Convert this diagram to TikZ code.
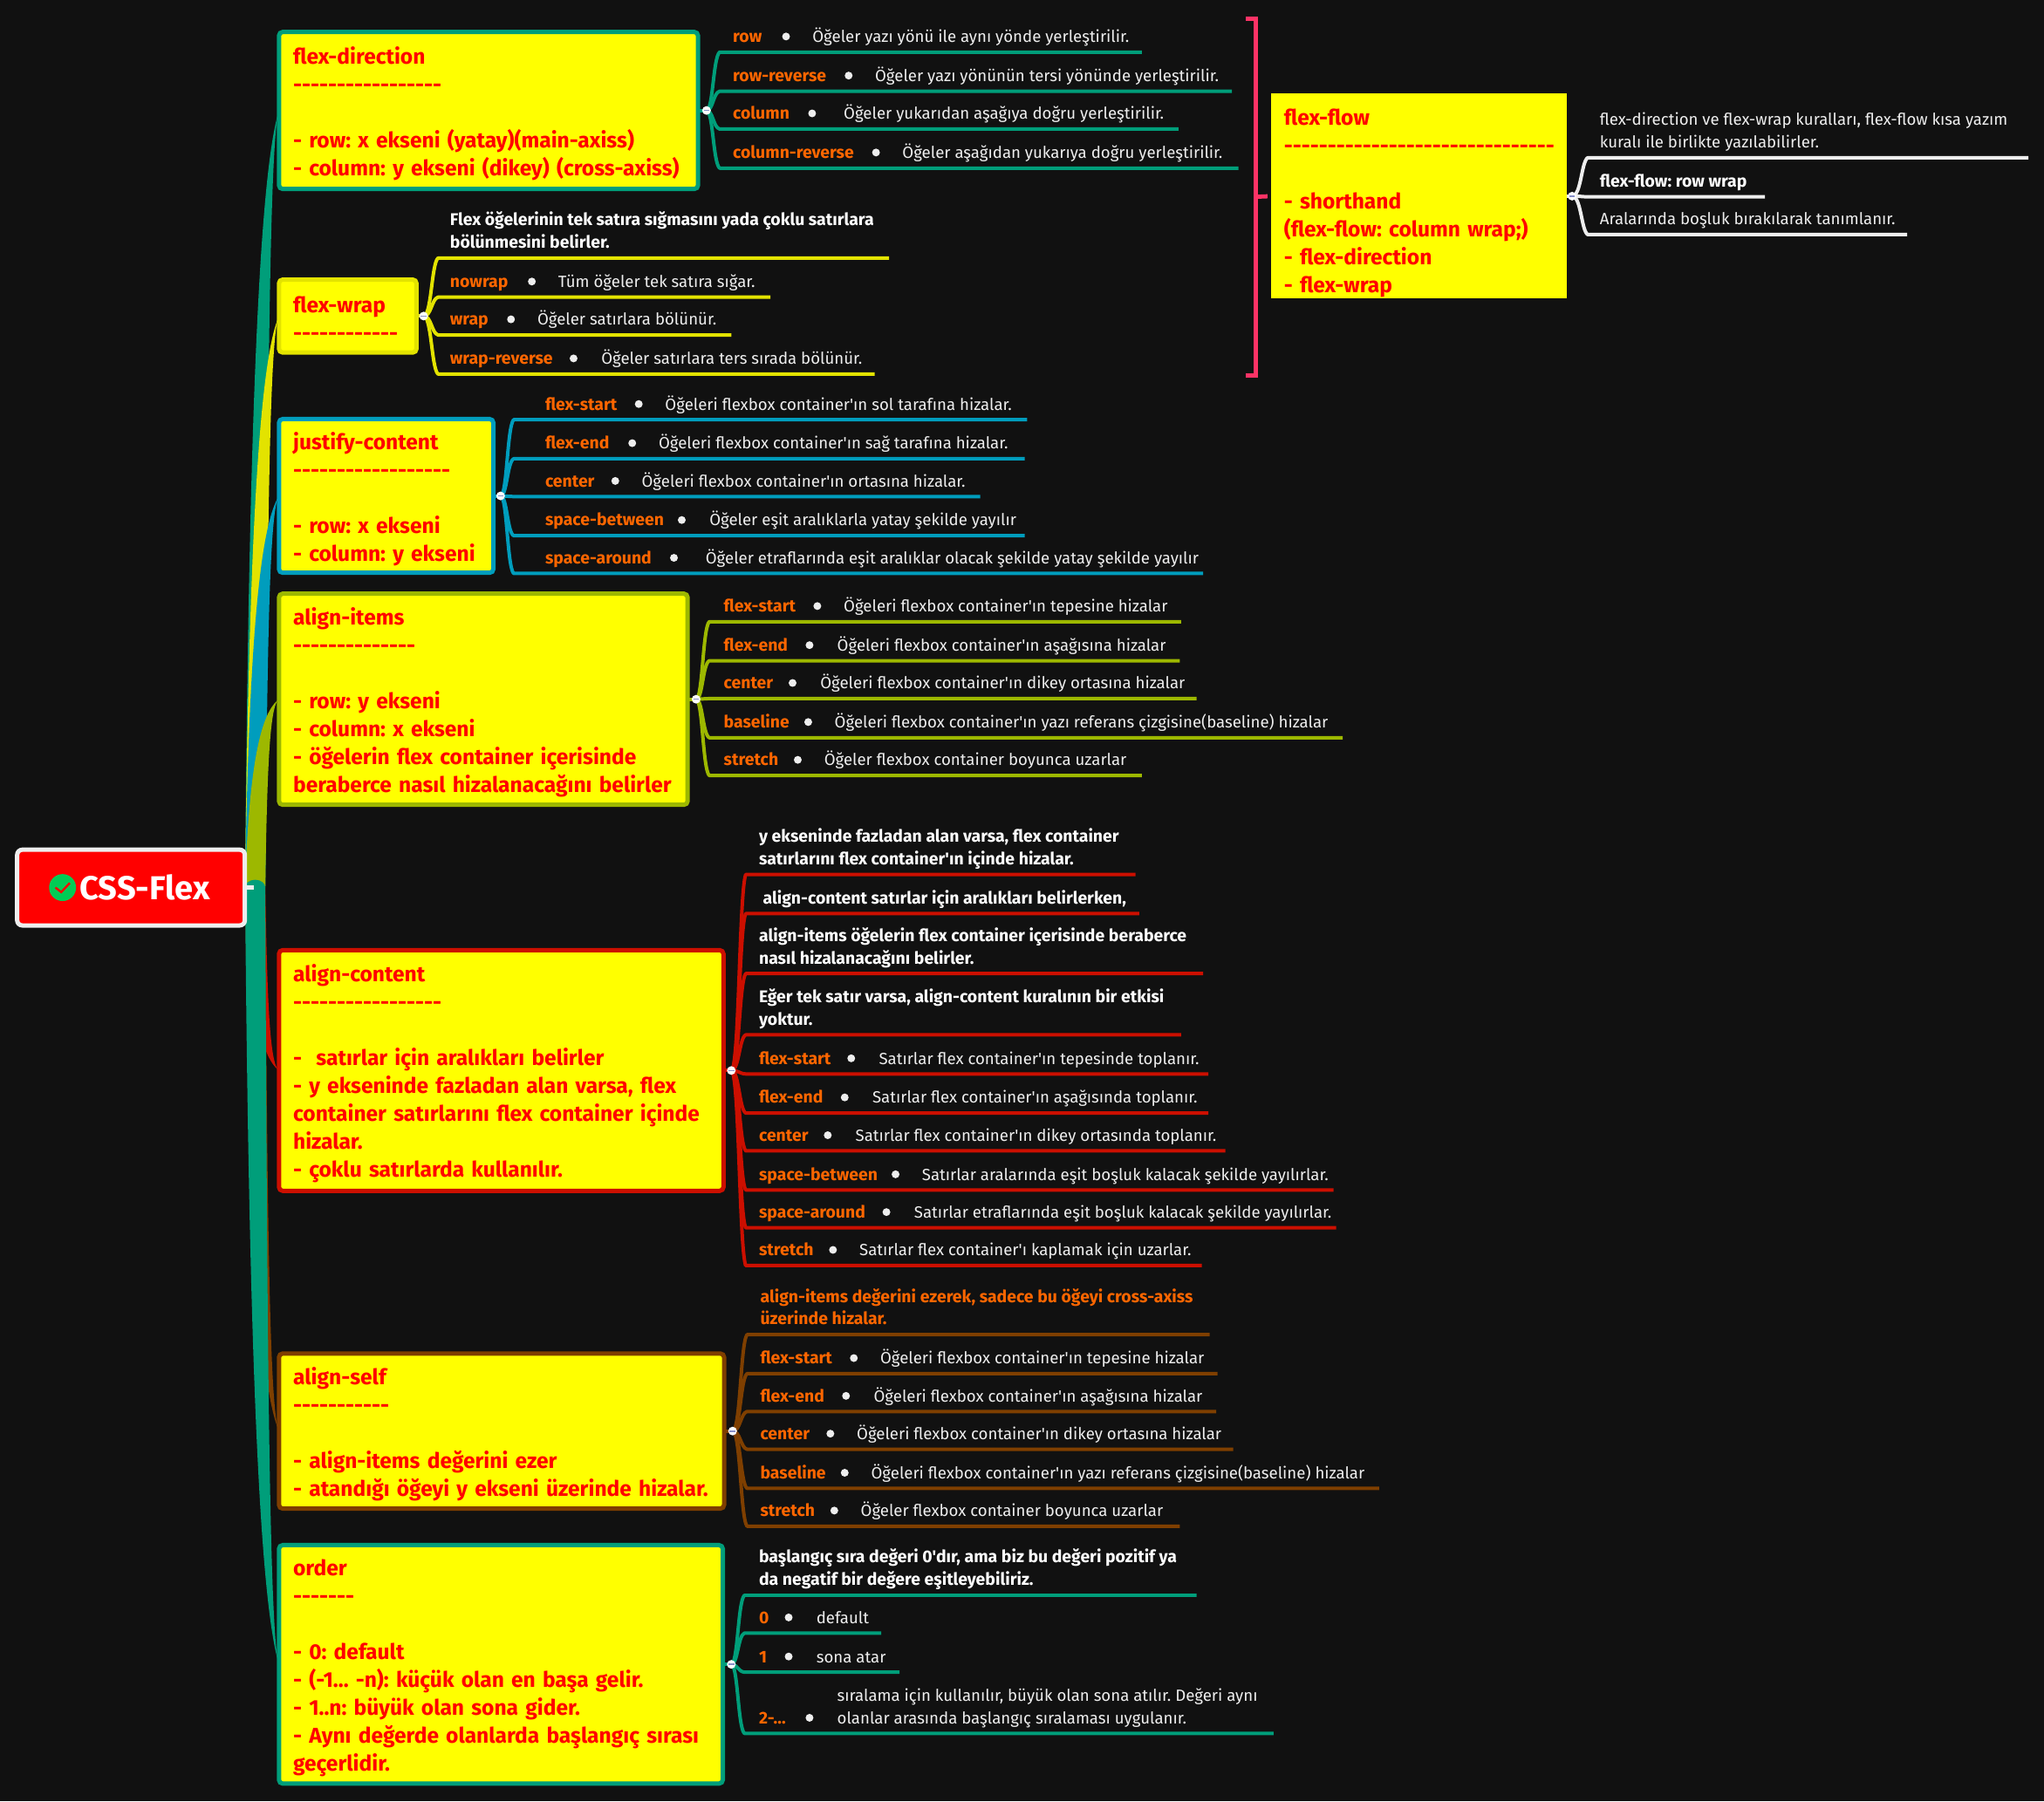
\documentclass[tikz,border=0pt]{standalone}
\usepackage{fontspec}
\usetikzlibrary{calc}
\newfontfamily\mm{Fira Sans}
\definecolor{bg}{HTML}{111111}
\definecolor{cTop}{HTML}{FFFF00}
\definecolor{cTx}{HTML}{FF0000}
\definecolor{cTeal}{HTML}{009E7A}
\definecolor{cYel}{HTML}{E3E300}
\definecolor{cBlue}{HTML}{009DBD}
\definecolor{cOli}{HTML}{9DB800}
\definecolor{cRed}{HTML}{CC0F00}
\definecolor{cBrn}{HTML}{7F3F00}
\definecolor{cPink}{HTML}{FF3366}
\definecolor{cWh}{HTML}{EEEEEE}
\definecolor{cOr}{HTML}{FF6600}
\definecolor{cChk}{HTML}{00CC55}
\definecolor{cBar}{HTML}{8890C8}
\tikzset{
 x=0.75pt,y=-0.75pt,
 branch/.style={line width=2pt,line join=round},
 lab/.style={anchor=south west,inner sep=0pt,align=left,text=cOr,font=\mm\bfseries\frenchspacing\fontsize{9.75}{13}\selectfont},
 desc/.style={anchor=south west,inner sep=0pt,align=left,text=cWh,font=\mm\frenchspacing\fontsize{9.35}{13}\selectfont},
 notebold/.style={anchor=south west,inner sep=0pt,align=left,text=white,font=\mm\bfseries\frenchspacing\fontsize{9.75}{13}\selectfont},
 bul/.style={circle,fill=cWh,inner sep=0pt,minimum size=4.5pt},
 cdot/.style={circle,fill=white,inner sep=0pt,minimum size=5pt},
 topic/.style={rectangle,rounded corners=2.2pt,fill=cTop,line width=2.5pt,outer sep=0pt,align=left,inner ysep=0pt,text=cTx,font=\mm\bfseries\frenchspacing\fontsize{12.33}{16.05}\selectfont},
}
\newcommand\Topic[7]{% name color x1 y1 x2 y2 text
 \pgfmathsetmacro\tw{(#5-#3)*0.75}\pgfmathsetmacro\th{(#6-#4)*0.75}\pgfmathsetmacro\ttw{\tw-2*8.2}
 \node[topic,draw=#2,minimum width=\tw pt,minimum height=\th pt,inner xsep=8.2pt,text width=\ttw pt] (#1) at ({(#3+#5)/2},{(#4+#6)/2}) {\vskip-2.2pt #7};}
\newcommand\Trunk[3]{% color target y
 \pgfmathsetmacro\tA{#3+(676-#3)*0.364}\pgfmathsetmacro\tB{#3+(676-#3)*0.076}\pgfmathsetmacro\tC{#3+(676-#3)*0.034}
 \fill[#1] (rl) .. controls (191,\tA) and (200,\tB) .. (#2.west) .. controls (207,\tC) and (205,\tA) .. (rr) -- cycle;}
\newcommand\Grp[5]{% topic color xstart xlabel dotx
 \def\Gc{#2}\def\Gs{#3}\def\Gl{#4}
 \coordinate (gp) at (#5,0 |- #1.east);
 \draw[branch,draw=#2] (#1.east) -- (gp);}
\newcommand\Conn[3]{% id yline xend
 \coordinate (#1-s) at (\Gs,#2); \coordinate (#1-e) at (#3,#2);
 \draw[branch,draw=\Gc] (gp) .. controls ($(#1-s |- gp)+(-5,0)$) and ($(#1-s)!0.1!(#1-s |- gp)+(-5,0)$) .. (#1-s) -- (#1-e);}
\newcommand\Leaf[7]{% id yline xend label xdot xdesc desc
 \Conn{#1}{#2}{#3}
 \node[lab] (#1-l) at (\Gl,#2-2) {\strut #4};
 \node[bul] (#1-d) at (#5,#2-12) {};
 \node[desc] (#1-t) at (#6,#2-2) {\strut #7};}
\newcommand\Note[6]{% id yline xend style x text
 \Conn{#1}{#2}{#3}
 \node[#4] (#1-t) at (#5,#2-2) {#6};}
\newcommand\Collapse[1]{\node[cdot] (#1) at (gp) {}; \draw[cBar,line width=.8pt] ($(#1)+(-2.2,0)$) -- ($(#1)+(2.2,0)$);}
\begin{document}
\begin{tikzpicture}
\useasboundingbox (0,0) rectangle (1568,1382);
\fill[bg] (0,0) rectangle (1568,1382);
\coordinate (rl) at (188,680);
\coordinate (rr) at (203.5,680);
% topics
\Topic{fd}{cTeal}{214}{24.5}{535.5}{145}{flex-direction\\-----------------\\[16.05pt]\mbox{- row: x ekseni (yatay)(main-axiss)}\\\mbox{- column: y ekseni (dikey) (cross-axiss)}}
\Topic{fw}{cYel}{214}{214.5}{319.5}{270.5}{\vskip-1.3pt flex-wrap\\------------}
\Topic{jc}{cBlue}{214}{321.5}{378.5}{439.5}{justify-content\\------------------\\[16.05pt]- row: x ekseni\\- column: y ekseni}
\Topic{ai}{cOli}{214}{455.5}{527.5}{617.5}{align-items\\--------------\\[16.05pt]- row: y ekseni\\- column: x ekseni\\- öğelerin flex container içerisinde\\\mbox{beraberce nasıl hizalanacağını belirler}}
\Topic{ac}{cRed}{214}{729}{555}{913.7}{align-content\\-----------------\\[16.05pt]-\ \ satırlar için aralıkları belirler\\\mbox{- y ekseninde fazladan alan varsa, flex}\\\mbox{container satırlarını flex container içinde}\\hizalar.\\- çoklu satırlarda kullanılır.}
\Topic{as}{cBrn}{214}{1038.5}{555.5}{1157.5}{align-self\\-----------\\[16.05pt]- align-items değerini ezer\\\mbox{- atandığı öğeyi y ekseni üzerinde hizalar.}}
\Topic{or}{cTeal}{214}{1185.5}{554.5}{1368.5}{order\\-------\\[16.05pt]- 0: default\\- (-1... -n): küçük olan en başa gelir.\\- 1..n: büyük olan sona gider.\\\mbox{- Aynı değerde olanlarda başlangıç sırası}\\geçerlidir.}
\node[topic,draw=none,rounded corners=0pt,minimum width=170.25pt,minimum height=118pt,inner xsep=7.5pt,text width=155.25pt] (ff) at (1088.5,150.5) {\vskip1.3pt flex-flow\\\mbox{-------------------------------}\\[16.05pt]- shorthand\\(flex-flow: column wrap;)\\- flex-direction\\- flex-wrap\par\vskip-1.3pt};
% trunk
\Trunk{cTeal}{fd}{85}
\Trunk{cYel}{fw}{241}
\Trunk{cBlue}{jc}{380}
\Trunk{cOli}{ai}{536}
\Trunk{cRed}{ac}{822}
\Trunk{cBrn}{as}{1098}
\Trunk{cTeal}{or}{1277}
\fill[cTeal] (195.75,681) ellipse (7.75 and 6);
% root
\node[rectangle,rounded corners=3pt,fill=cTx,draw=cWh,line width=2.5pt,outer sep=0pt,minimum width=131pt,minimum height=43.6pt,text=white,font=\mm\bfseries\fontsize{19.1}{22}\selectfont] (root) at (100.5,681) {\hspace*{15.75pt}CSS-Flex};
\draw[cWh,line width=2.5pt] (root.east) -- ($(root.east)+(7,0)$);
\node[circle,fill=cChk,inner sep=0pt,minimum size=15.5pt] (icon) at (48,681) {};
\draw[cTx,line width=1.2pt] ($(icon)+(-5.5,0)$) -- ($(icon)+(-1,3.5)$) -- ($(icon)+(5.5,-3.5)$);
% flex-direction
\Grp{fd}{cTeal}{552}{562}{542}
\Leaf{a1}{40}{876}{row}{603}{623}{Öğeler yazı yönü ile aynı yönde yerleştirilir.}
\Leaf{a2}{70}{945}{row-reverse}{651}{671}{Öğeler yazı yönünün tersi yönünde yerleştirilir.}
\Leaf{a3}{99}{904}{column}{623}{647}{Öğeler yukarıdan aşağıya doğru yerleştirilir.}
\Leaf{a4}{129}{950}{column-reverse}{672}{692}{Öğeler aşağıdan yukarıya doğru yerleştirilir.}
\Collapse{fd-c}
% flex-wrap
\Grp{fw}{cYel}{336}{345}{325}
\Note{b0}{198}{682}{notebold}{345}{\strut Flex öğelerinin tek satıra sığmasını yada çoklu satırlara\\\strut bölünmesini belirler.}
\Leaf{b1}{228}{591}{nowrap}{408}{428}{Tüm öğeler tek satıra sığar.}
\Leaf{b2}{257}{561}{wrap}{392}{412}{Öğeler satırlara bölünür.}
\Leaf{b3}{287}{671}{wrap-reverse}{440}{461}{Öğeler satırlara ters sırada bölünür.}
\Collapse{fw-c}
% justify-content
\Grp{jc}{cBlue}{394}{418}{384}
\Leaf{c1}{322}{788}{flex-start}{490}{510}{Öğeleri flexbox container'ın sol tarafına hizalar.}
\Leaf{c2}{352}{786}{flex-end}{485}{505}{Öğeleri flexbox container'ın sağ tarafına hizalar.}
\Leaf{c3}{381}{752}{center}{472}{492}{Öğeleri flexbox container'ın ortasına hizalar.}
\Leaf{c4}{411}{786}{space-between}{523}{544}{Öğeler eşit aralıklarla yatay şekilde yayılır}
\Leaf{c5}{440}{923}{space-around}{517}{541}{Öğeler etraflarında eşit aralıklar olacak şekilde yatay şekilde yayılır}
\Collapse{jc-c}
% align-items
\Grp{ai}{cOli}{544}{555}{534}
\Leaf{d1}{477}{906}{flex-start}{627}{647}{Öğeleri flexbox container'ın tepesine hizalar}
\Leaf{d2}{507}{905}{flex-end}{621}{642}{Öğeleri flexbox container'ın aşağısına hizalar}
\Leaf{d3}{536}{918}{center}{608}{629}{Öğeleri flexbox container'ın dikey ortasına hizalar}
\Leaf{d4}{566}{1030}{baseline}{620}{640}{Öğeleri flexbox container'ın yazı referans çizgisine(baseline) hizalar}
\Leaf{d5}{595}{876}{stretch}{612}{632}{Öğeler flexbox container boyunca uzarlar}
\Collapse{ai-c}
% align-content
\Grp{ac}{cRed}{572}{582}{561}
\Note{e0}{671}{871}{notebold}{582}{\strut y ekseninde fazladan alan varsa, flex container\\\strut satırlarını flex container'ın içinde hizalar.}
\Note{e1}{701}{874}{notebold}{585}{\strut align-content satırlar için aralıkları belirlerken,}
\Note{e2}{747}{923}{notebold}{582}{\strut align-items öğelerin flex container içerisinde beraberce\\\strut nasıl hizalanacağını belirler.}
\Note{e3}{794}{906}{notebold}{582}{\strut Eğer tek satır varsa, align-content kuralının bir etkisi\\\strut yoktur.}
\Leaf{e4}{824}{927}{flex-start}{653}{674}{Satırlar flex container'ın tepesinde toplanır.}
\Leaf{e5}{854}{927}{flex-end}{648}{669}{Satırlar flex container'ın aşağısında toplanır.}
\Leaf{e6}{883}{940}{center}{635}{656}{Satırlar flex container'ın dikey ortasında toplanır.}
\Leaf{e7}{913}{1023}{space-between}{687}{707}{Satırlar aralarında eşit boşluk kalacak şekilde yayılırlar.}
\Leaf{e8}{942}{1025}{space-around}{680}{701}{Satırlar etraflarında eşit boşluk kalacak şekilde yayılırlar.}
\Leaf{e9}{971}{922}{stretch}{639}{659}{Satırlar flex container'ı kaplamak için uzarlar.}
\Collapse{ac-c}
% align-self
\Grp{as}{cBrn}{573}{583}{562}
\Note{f0}{1024}{928}{lab}{583}{\strut align-items değerini ezerek, sadece bu öğeyi cross-axiss\\\strut üzerinde hizalar.}
\Leaf{f1}{1054}{934}{flex-start}{655}{675}{Öğeleri flexbox container'ın tepesine hizalar}
\Leaf{f2}{1083}{933}{flex-end}{649}{670}{Öğeleri flexbox container'ın aşağısına hizalar}
\Leaf{f3}{1112}{946}{center}{637}{657}{Öğeleri flexbox container'ın dikey ortasına hizalar}
\Leaf{f4}{1142}{1058}{baseline}{648}{668}{Öğeleri flexbox container'ın yazı referans çizgisine(baseline) hizalar}
\Leaf{f5}{1171}{905}{stretch}{640}{660}{Öğeler flexbox container boyunca uzarlar}
\Collapse{as-c}
% order
\Grp{or}{cTeal}{571}{582}{561}
\Note{g0}{1224}{918}{notebold}{582}{\strut başlangıç sıra değeri 0'dır, ama biz bu değeri pozitif ya\\\strut da negatif bir değere eşitleyebiliriz.}
\Leaf{g1}{1253}{676}{0}{605}{626}{default}
\Leaf{g2}{1283}{690}{1}{605}{626}{sona atar}
\Leaf{g3}{1330}{977}{2-...}{621}{642}{sıralama için kullanılır, büyük olan sona atılır. Değeri aynı\\\strut olanlar arasında başlangıç sıralaması uygulanır.}
\Collapse{or-c}
% flex-flow summary bracket
\coordinate (brT) at (955.5,14.5);
\coordinate (brB) at (955.5,288);
\draw[cPink,line width=2.4pt] (brT) -- (963.5,14.5) -- (963.5,288) -- (brB);
\draw[cPink,line width=2.4pt,shorten >=2pt] (963.5,151) -- (ff.west);
% flex-flow children
\Grp{ff}{cWh}{1218}{1227}{1206}
\Note{h1}{121}{1556}{desc}{1227}{\strut flex-direction ve flex-wrap kuralları, flex-flow kısa yazım\\\strut kuralı ile birlikte yazılabilirler.}
\Note{h2}{151}{1354}{notebold}{1227}{\strut flex-flow: row wrap}
\Note{h3}{180}{1463}{desc}{1227}{\strut Aralarında boşluk bırakılarak tanımlanır.}
\Collapse{ff-c}
\end{tikzpicture}
\end{document}
